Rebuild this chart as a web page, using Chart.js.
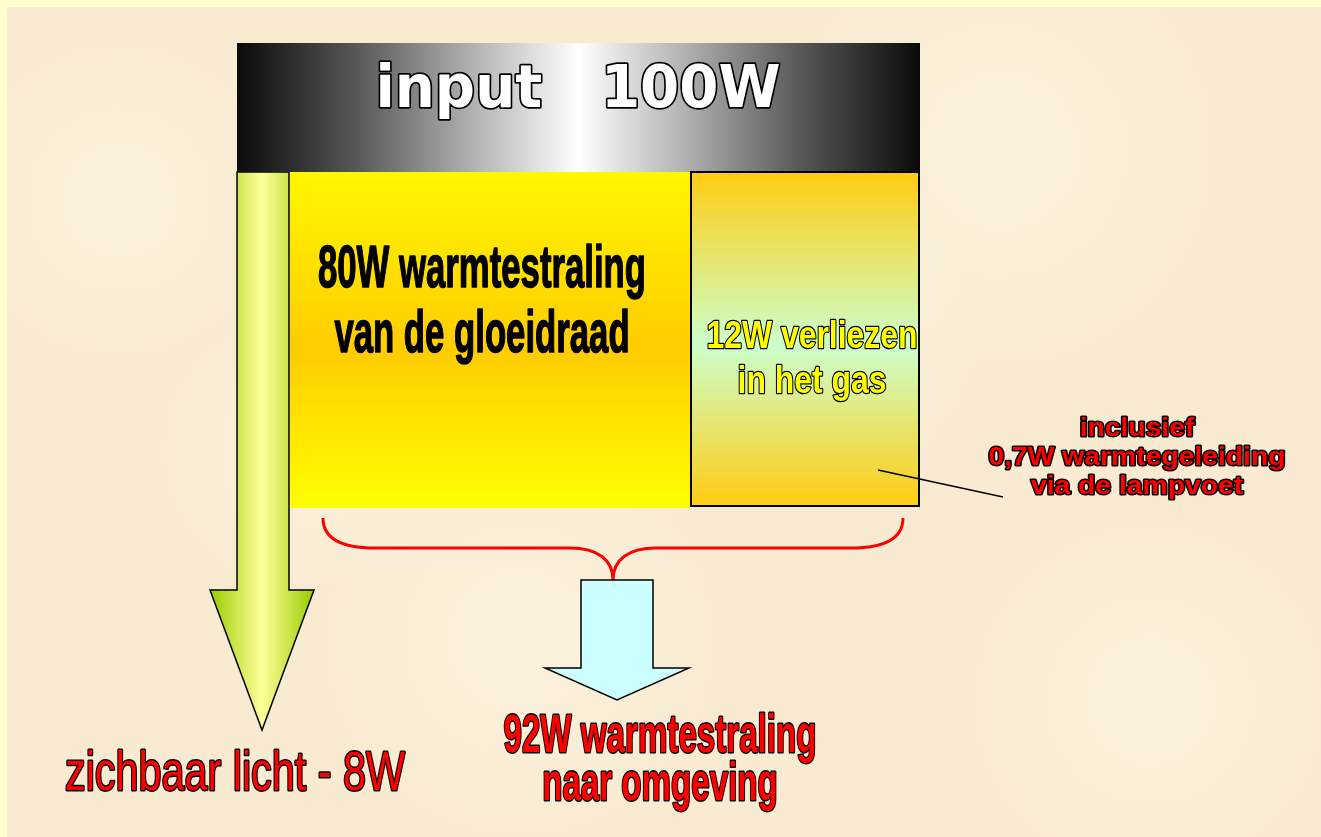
<!DOCTYPE html>
<html>
<head>
<meta charset="utf-8">
<title>Energiebalans gloeilamp</title>
<script src="https://cdn.jsdelivr.net/npm/chart.js@4"></script>
<style>
  html, body { margin: 0; padding: 0; background: #ffffcc; }
  #wrap { width: 1321px; height: 837px; }
</style>
</head>
<body>
<div id="wrap"><canvas id="diagram" width="1321" height="837"></canvas></div>
<script>
// energie stromen (W)
const flowNames = ["input", "warmtestraling van de gloeidraad", "verliezen in het gas",
  "zichbaar licht", "warmtestraling naar omgeving", "warmtegeleiding via de lampvoet"];
const flowWatts = [100, 80, 12, 8, 92, 0.7];

const W = 1321, H = 837;
const fmt = v => String(v).replace(".", ",");

// tekst per blok
const labelInput = [`input   ${flowWatts[0]}W`];
const labelFilament = [`${flowWatts[1]}W warmtestraling`, "van de gloeidraad"];
const labelGas = [`${flowWatts[2]}W verliezen`, "in het gas"];
const labelLight = [`zichbaar licht - ${flowWatts[3]}W`];
const labelOut = [`${flowWatts[4]}W warmtestraling`, "naar omgeving"];
const labelNote = ["inclusief", `${fmt(flowWatts[5])}W warmtegeleiding`, "via de lampvoet"];

const diagramPlugin = {
  id: "lampDiagram",
  beforeDatasetsDraw(chart) {
    const ctx = chart.ctx;
    const sx = chart.scales.x, sy = chart.scales.y;
    const X = v => sx.getPixelForValue(v);
    const Y = v => sy.getPixelForValue(v);

    function poly(pts, fill, stroke, lw) {
      ctx.beginPath();
      pts.forEach((p, i) => i ? ctx.lineTo(X(p[0]), Y(p[1])) : ctx.moveTo(X(p[0]), Y(p[1])));
      ctx.closePath();
      ctx.fillStyle = fill;
      ctx.fill();
      if (stroke) { ctx.strokeStyle = stroke; ctx.lineWidth = lw || 1.5; ctx.stroke(); }
    }

    // tekst met contour, horizontaal geschaald tot de breedste regel o.width is
    function text(lines, cx, y0, lh, o) {
      ctx.save();
      ctx.font = `${o.weight || "bold"} ${o.size}px ${o.family || "'Liberation Sans', Arial, sans-serif"}`;
      const widest = Math.max(...lines.map(t => ctx.measureText(t).width));
      const sxf = o.width ? o.width / widest : 1;
      ctx.textAlign = "center";
      ctx.textBaseline = "alphabetic";
      ctx.lineJoin = "round";
      lines.forEach((t, i) => {
        ctx.save();
        ctx.translate(X(cx), Y(y0 + i * lh));
        ctx.scale(sxf, 1);
        if (o.stroke) {
          ctx.strokeStyle = o.stroke;
          ctx.lineWidth = o.lw;
          ctx.strokeText(t, 0, 0);
        }
        ctx.fillStyle = o.fill;
        ctx.fillText(t, 0, 0);
        ctx.restore();
      });
      ctx.restore();
    }

    // achtergrond
    ctx.fillStyle = "#ffffcc";
    ctx.fillRect(0, 0, W, H);
    ctx.fillStyle = "#f9ebd2";
    ctx.fillRect(X(7), Y(7), X(W) - X(7), Y(H) - Y(7));
    [[120, 200, 160], [520, 640, 200], [1000, 150, 220], [1150, 700, 180], [300, 450, 140], [820, 330, 160]].forEach(b => {
      const g = ctx.createRadialGradient(X(b[0]), Y(b[1]), 0, X(b[0]), Y(b[1]), b[2]);
      g.addColorStop(0, "rgba(255,248,232,0.5)");
      g.addColorStop(1, "rgba(255,248,232,0)");
      ctx.fillStyle = g;
      ctx.fillRect(X(7), Y(7), X(W) - X(7), Y(H) - Y(7));
    });

    // pijl zichtbaar licht
    const gl = ctx.createLinearGradient(X(210), 0, X(314), 0);
    gl.addColorStop(0, "#99cc00");
    gl.addColorStop(0.5, "#ffff99");
    gl.addColorStop(1, "#99cc00");
    poly([[237, 172], [289, 172], [289, 590], [314, 590], [262, 730], [210, 590], [237, 590]], gl, "#000", 1.5);

    // input balk
    const gi = ctx.createLinearGradient(X(237), 0, X(920), 0);
    gi.addColorStop(0, "#0a0a0a");
    gi.addColorStop(0.17, "#555555");
    gi.addColorStop(0.35, "#b4b4b4");
    gi.addColorStop(0.5, "#ffffff");
    gi.addColorStop(0.65, "#b4b4b4");
    gi.addColorStop(0.83, "#555555");
    gi.addColorStop(1, "#0a0a0a");
    poly([[237, 43], [920, 43], [920, 172], [237, 172]], gi);
    text(labelInput, 578, 107, 0, { size: 58, family: "'DejaVu Sans', Verdana, sans-serif",
      fill: "#ffffff", stroke: "#000", lw: 3.5, width: 405 });

    // 80W blok
    const gf = ctx.createLinearGradient(0, Y(172), 0, Y(508));
    gf.addColorStop(0, "#fff700");
    gf.addColorStop(0.53, "#ffcc00");
    gf.addColorStop(1, "#ffff00");
    poly([[290, 172], [690, 172], [690, 508], [290, 508]], gf);
    text(labelFilament, 482, 287, 65, { size: 60, fill: "#000", stroke: "#000", lw: 1.5, width: 328 });

    // 12W blok
    const gg = ctx.createLinearGradient(0, Y(172), 0, Y(506));
    gg.addColorStop(0, "#ffcc11");
    gg.addColorStop(0.52, "#ccffcc");
    gg.addColorStop(1, "#ffcc11");
    poly([[691, 172], [919, 172], [919, 506], [691, 506]], gg, "#000", 2);
    text(labelGas, 812, 348, 45, { size: 38, fill: "#ffff00", stroke: "#000", lw: 2.5, width: 211 });

    // verwijslijn + notitie
    ctx.beginPath();
    ctx.moveTo(X(878), Y(470));
    ctx.lineTo(X(1003), Y(497));
    ctx.strokeStyle = "#000";
    ctx.lineWidth = 1.5;
    ctx.stroke();
    text(labelNote, 1137, 436, 29, { size: 26, fill: "#ff0000", stroke: "#000", lw: 3, width: 297 });

    // accolade
    ctx.beginPath();
    ctx.moveTo(X(323), Y(518));
    ctx.bezierCurveTo(X(323), Y(540), X(345), Y(548), X(375), Y(548));
    ctx.lineTo(X(570), Y(548));
    ctx.bezierCurveTo(X(598), Y(548), X(613), Y(560), X(613), Y(580));
    ctx.moveTo(X(903), Y(518));
    ctx.bezierCurveTo(X(903), Y(540), X(881), Y(548), X(851), Y(548));
    ctx.lineTo(X(656), Y(548));
    ctx.bezierCurveTo(X(628), Y(548), X(613), Y(560), X(613), Y(580));
    ctx.strokeStyle = "#ff0000";
    ctx.lineWidth = 3;
    ctx.stroke();

    // pijl naar omgeving
    poly([[581, 580], [653, 580], [653, 668], [689, 668], [617, 700], [545, 668], [581, 668]], "#ccffff", "#000", 1.5);

    text(labelOut, 660, 752, 48, { size: 54, fill: "#ff0000", stroke: "#000", lw: 3, width: 313 });
    text(labelLight, 235, 790, 0, { size: 56, weight: "normal", fill: "#ff0000", stroke: "#000", lw: 3, width: 340 });
  }
};

new Chart(document.getElementById("diagram"), {
  type: "scatter",
  data: { datasets: [] },
  options: {
    responsive: false,
    animation: false,
    layout: { padding: 0 },
    plugins: { legend: { display: false }, tooltip: { enabled: false } },
    scales: {
      x: { type: "linear", min: 0, max: W, display: false },
      y: { type: "linear", min: 0, max: H, reverse: true, display: false }
    }
  },
  plugins: [diagramPlugin]
});
</script>
</body>
</html>
